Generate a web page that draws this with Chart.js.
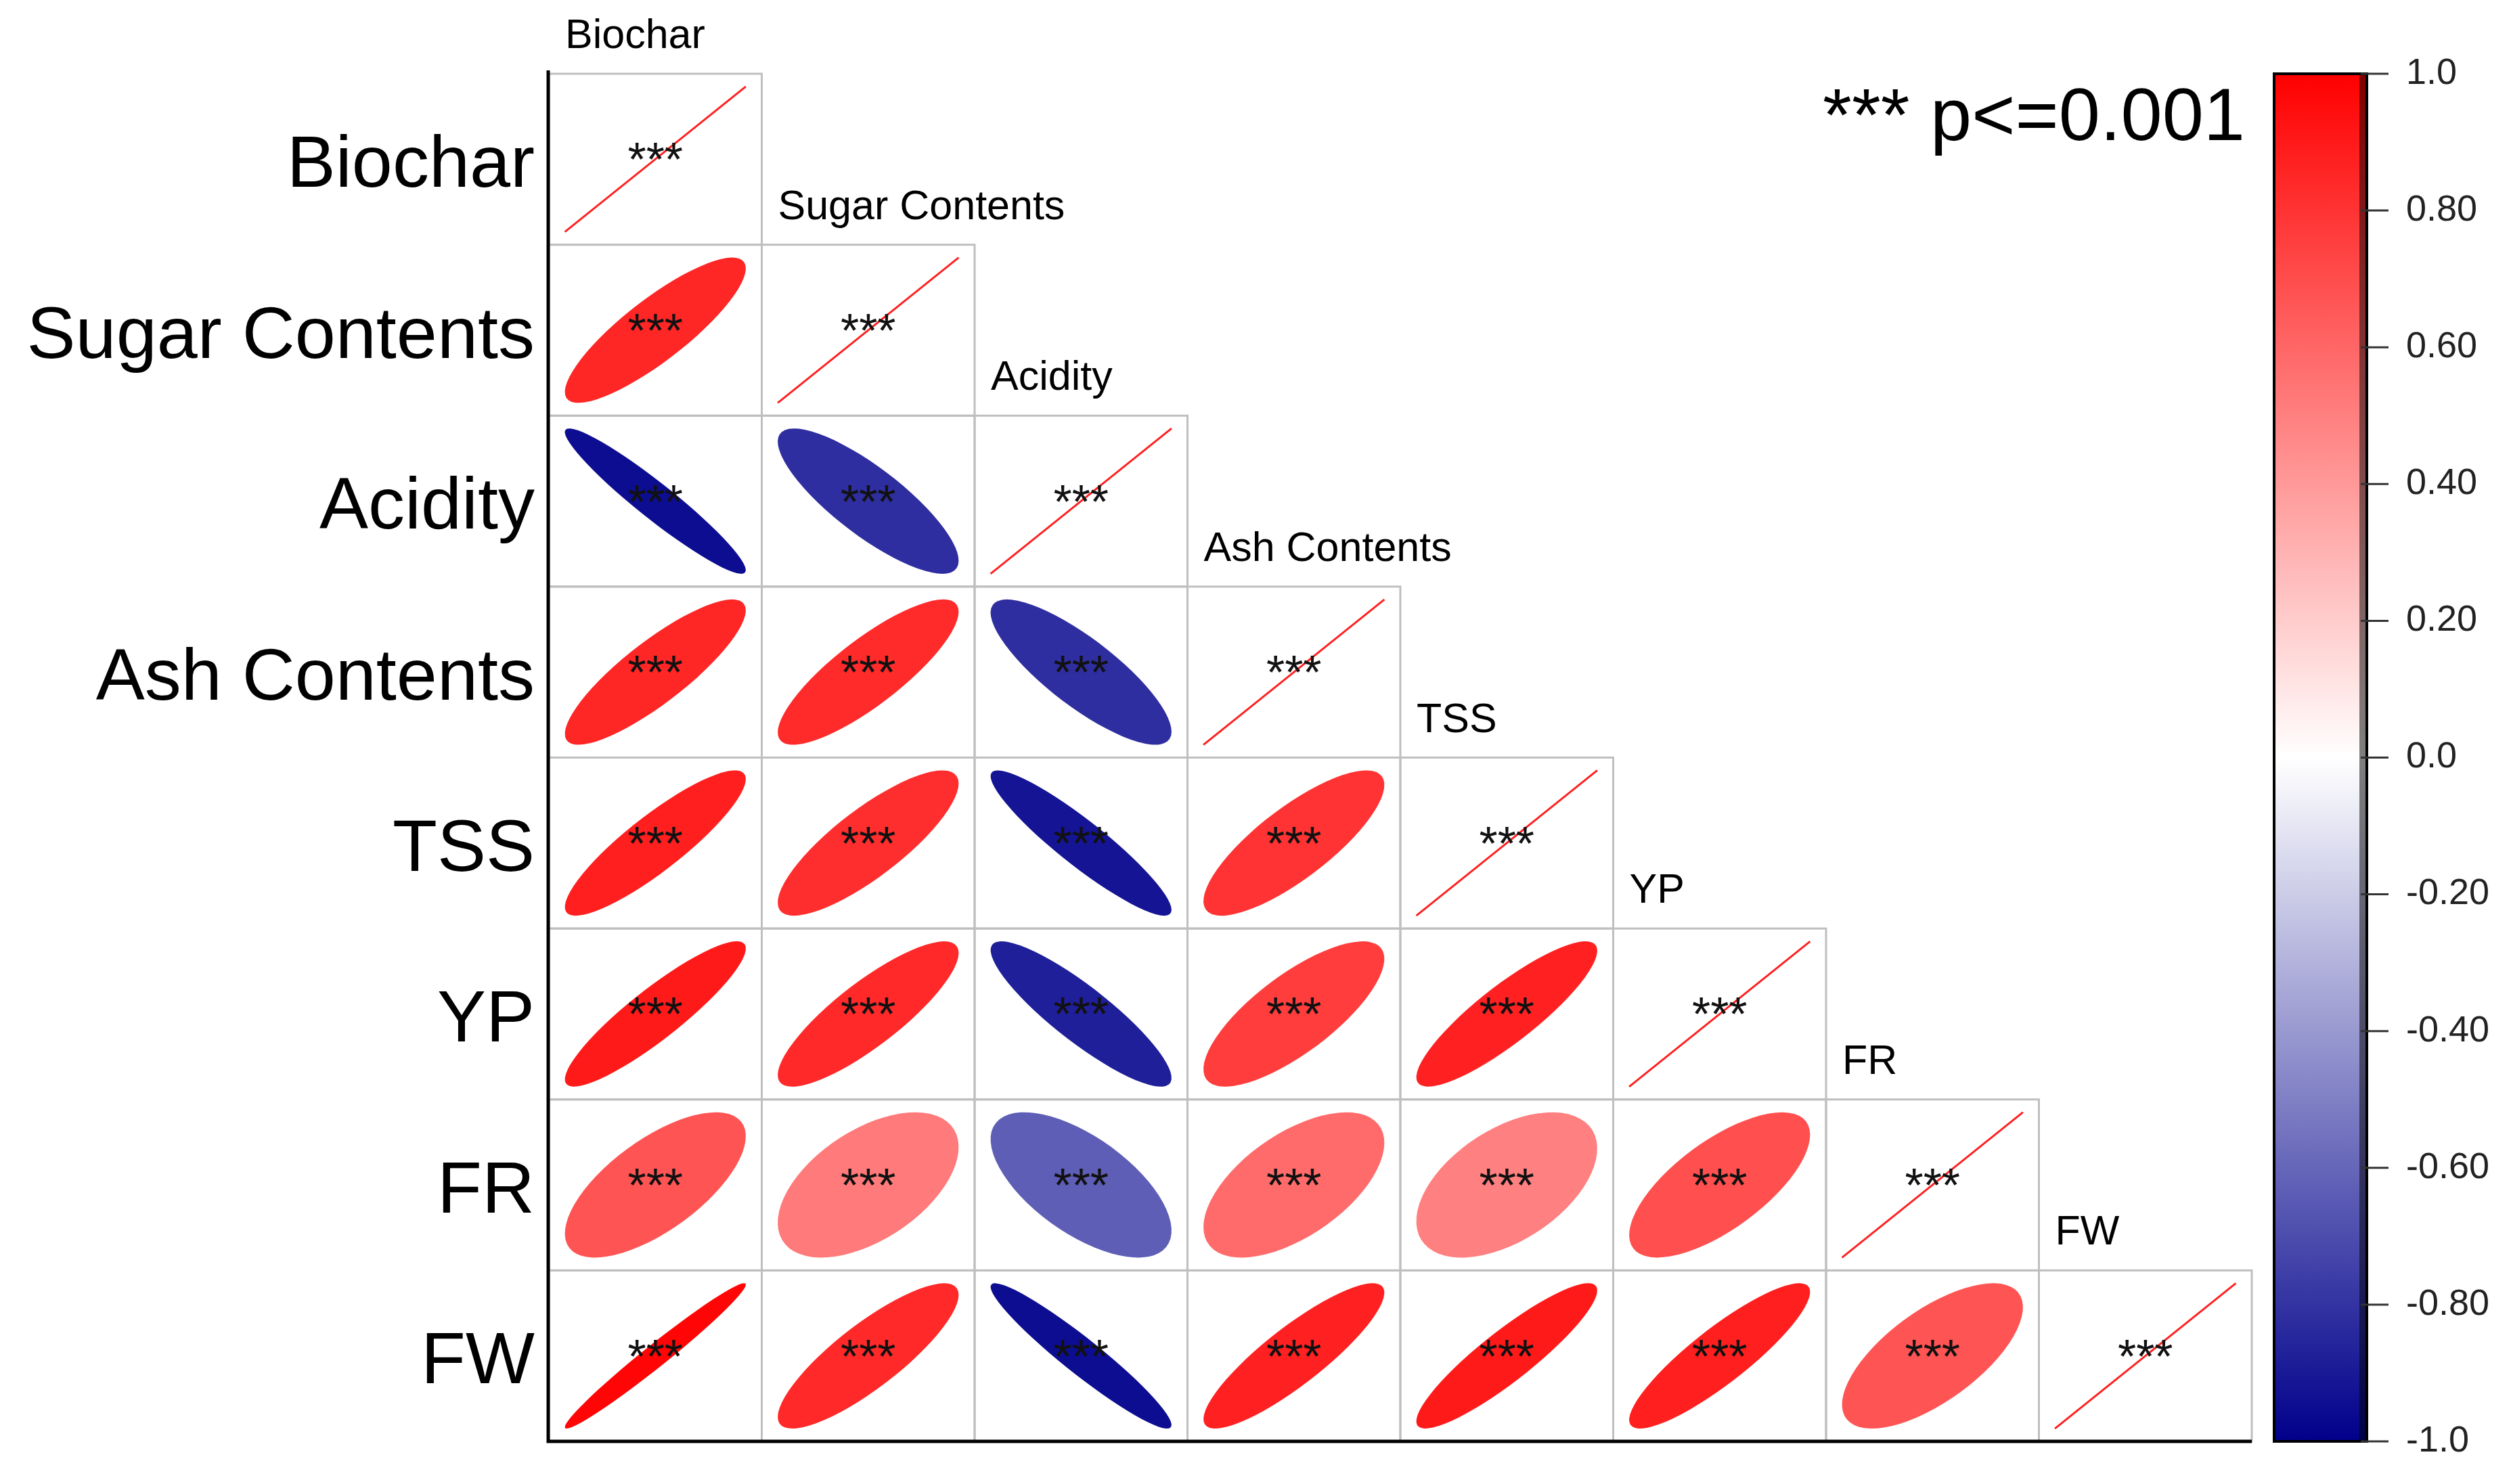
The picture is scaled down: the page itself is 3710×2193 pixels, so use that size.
<!DOCTYPE html>
<html>
<head>
<meta charset="utf-8">
<title>Correlation ellipses</title>
<script src="https://cdn.jsdelivr.net/npm/chart.js@4.4.1/dist/chart.umd.min.js"></script>
<style>
  html, body { margin: 0; padding: 0; background: #fff; }
  #wrap { width: 3710px; height: 2193px; }
</style>
</head>
<body>
<div id="wrap"><canvas id="corrChart"></canvas></div>
<script>
const variables = ['Biochar', 'Sugar Contents', 'Acidity', 'Ash Contents', 'TSS', 'YP', 'FR', 'FW'];

// lower triangle of the correlation matrix, one array per row (columns 0..i-1)
const corrSugar = [0.85];
const corrAcidity = [-0.95, -0.82];
const corrAsh = [0.85, 0.83, -0.82];
const corrTSS = [0.88, 0.82, -0.92, 0.80];
const corrYP = [0.90, 0.84, -0.88, 0.76, 0.87];
const corrFR = [0.67, 0.52, -0.63, 0.58, 0.50, 0.69];
const corrFW = [0.98, 0.84, -0.95, 0.87, 0.90, 0.88, 0.67];
const lowerRows = [[], corrSugar, corrAcidity, corrAsh, corrTSS, corrYP, corrFR, corrFW];

const signifLabel = '***';
const pNote = '*** p<=0.001';
const legendTicks = [-1, -0.8, -0.6, -0.4, -0.2, 0, 0.2, 0.4, 0.6, 0.8, 1];
const legendTickLabels = ['-1.0', '-0.80', '-0.60', '-0.40', '-0.20', '0.0', '0.20', '0.40', '0.60', '0.80', '1.0'];

const FONT = "'Liberation Sans', Arial, Helvetica, sans-serif";
const NEG_END = [0, 0, 139];
const POS_END = [255, 0, 0];

function corrColor(r) {
  const t = Math.min(1, Math.abs(r));
  const end = r < 0 ? NEG_END : POS_END;
  const c = end.map((v) => Math.round(255 + (v - 255) * t));
  return `rgb(${c[0]}, ${c[1]}, ${c[2]})`;
}

function buildCells() {
  const cells = [];
  variables.forEach((name, i) => {
    lowerRows[i].forEach((r, j) => cells.push({ x: j, y: i, r }));
    cells.push({ x: i, y: i, r: 1 });
  });
  return cells;
}

const corrPlotPlugin = {
  id: 'corrPlot',
  afterDatasetsDraw(chart) {
    const { ctx, chartArea, scales } = chart;
    const xs = scales.x;
    const ys = scales.y;
    const cw = Math.abs(xs.getPixelForValue(1) - xs.getPixelForValue(0));
    const ch = Math.abs(ys.getPixelForValue(1) - ys.getPixelForValue(0));
    const meta = chart.getDatasetMeta(0);
    const cells = chart.data.datasets[0].data;

    ctx.save();

    // cell boxes
    ctx.strokeStyle = '#bfbfbf';
    ctx.lineWidth = 3;
    meta.data.forEach((pt) => ctx.strokeRect(pt.x - cw / 2, pt.y - ch / 2, cw, ch));

    // ellipses (and the degenerate line on the diagonal)
    meta.data.forEach((pt, k) => {
      const r = cells[k].r;
      if (r >= 0.999) {
        ctx.beginPath();
        ctx.moveTo(pt.x - 0.425 * cw, pt.y + 0.425 * ch);
        ctx.lineTo(pt.x + 0.425 * cw, pt.y - 0.425 * ch);
        ctx.strokeStyle = '#ff1f1f';
        ctx.lineWidth = 3;
        ctx.stroke();
        return;
      }
      ctx.save();
      ctx.translate(pt.x, pt.y);
      ctx.scale(cw, -ch);
      ctx.beginPath();
      ctx.ellipse(0, 0, 0.425 * Math.sqrt(1 + r), 0.425 * Math.sqrt(1 - r), Math.PI / 4, 0, 2 * Math.PI);
      ctx.restore();
      ctx.fillStyle = corrColor(r);
      ctx.fill();
    });

    // significance stars
    ctx.fillStyle = '#111';
    ctx.font = `70px ${FONT}`;
    ctx.textAlign = 'center';
    ctx.textBaseline = 'alphabetic';
    meta.data.forEach((pt) => ctx.fillText(signifLabel, pt.x, pt.y + 25));

    // column labels sit above each diagonal cell
    ctx.fillStyle = '#000';
    ctx.font = `61px ${FONT}`;
    ctx.textAlign = 'left';
    variables.forEach((name, i) => {
      const left = xs.getPixelForValue(i - 0.5);
      const top = ys.getPixelForValue(i - 0.5);
      ctx.fillText(name, left + 24, top - 38);
    });

    // left and bottom axis lines
    ctx.strokeStyle = '#000';
    ctx.lineWidth = 5;
    ctx.beginPath();
    ctx.moveTo(chartArea.left - 1, chartArea.top - 5);
    ctx.lineTo(chartArea.left - 1, chartArea.bottom);
    ctx.lineTo(chartArea.right, chartArea.bottom);
    ctx.stroke();

    // p-value note
    ctx.font = `110px ${FONT}`;
    ctx.textAlign = 'right';
    ctx.fillText(pNote, chartArea.right - 10, chartArea.top + 98);

    // colour bar drawn against the cb scale
    const cb = scales.cb;
    const barTop = cb.getPixelForValue(1);
    const barBottom = cb.getPixelForValue(-1);
    const barL = chartArea.right + 33;
    const barR = chartArea.right + 170;
    const grad = ctx.createLinearGradient(0, barBottom, 0, barTop);
    grad.addColorStop(0, corrColor(-1));
    grad.addColorStop(0.5, corrColor(0));
    grad.addColorStop(1, corrColor(1));
    ctx.fillStyle = grad;
    ctx.fillRect(barL, barTop, barR - barL, barBottom - barTop);
    ctx.fillStyle = 'rgba(0, 0, 0, 0.5)';
    ctx.fillRect(barR - 11, barTop, 11, barBottom - barTop);
    ctx.strokeStyle = '#000';
    ctx.lineWidth = 4;
    ctx.strokeRect(barL, barTop, barR - barL, barBottom - barTop);

    ctx.font = `54px ${FONT}`;
    ctx.textAlign = 'left';
    ctx.textBaseline = 'middle';
    legendTicks.forEach((v, i) => {
      const y = cb.getPixelForValue(v);
      ctx.strokeStyle = '#333';
      ctx.lineWidth = 3;
      ctx.beginPath();
      ctx.moveTo(barR - 9, y);
      ctx.lineTo(barR + 32, y);
      ctx.stroke();
      ctx.fillStyle = '#222';
      ctx.fillText(legendTickLabels[i], chartArea.right + 228, y);
    });

    ctx.restore();
  }
};

new Chart(document.getElementById('corrChart'), {
  type: 'scatter',
  data: {
    datasets: [
      {
        label: 'correlation',
        data: buildCells(),
        pointRadius: 0,
        pointHoverRadius: 0
      }
    ]
  },
  options: {
    responsive: true,
    maintainAspectRatio: false,
    animation: false,
    events: [],
    layout: { padding: { top: 109, bottom: 63, left: 0, right: 0 } },
    plugins: { legend: { display: false }, tooltip: { enabled: false } },
    scales: {
      x: { type: 'linear', min: -0.5, max: 7.5, display: false },
      y: {
        type: 'linear',
        position: 'left',
        min: -0.5,
        max: 7.5,
        reverse: true,
        afterFit: (scale) => { scale.width = 811; },
        afterBuildTicks: (scale) => { scale.ticks = variables.map((_, i) => ({ value: i })); },
        grid: { display: false },
        border: { display: false },
        ticks: {
          autoSkip: false,
          padding: 13,
          labelOffset: 11,
          color: '#000',
          font: { family: FONT, size: 108, lineHeight: 0.7 },
          callback: (value) => variables[value]
        }
      },
      cb: {
        type: 'linear',
        position: 'right',
        min: -1,
        max: 1,
        afterFit: (scale) => { scale.width = 383; },
        grid: { display: false },
        border: { display: false },
        ticks: { display: false }
      }
    }
  },
  plugins: [corrPlotPlugin]
});
</script>
</body>
</html>
